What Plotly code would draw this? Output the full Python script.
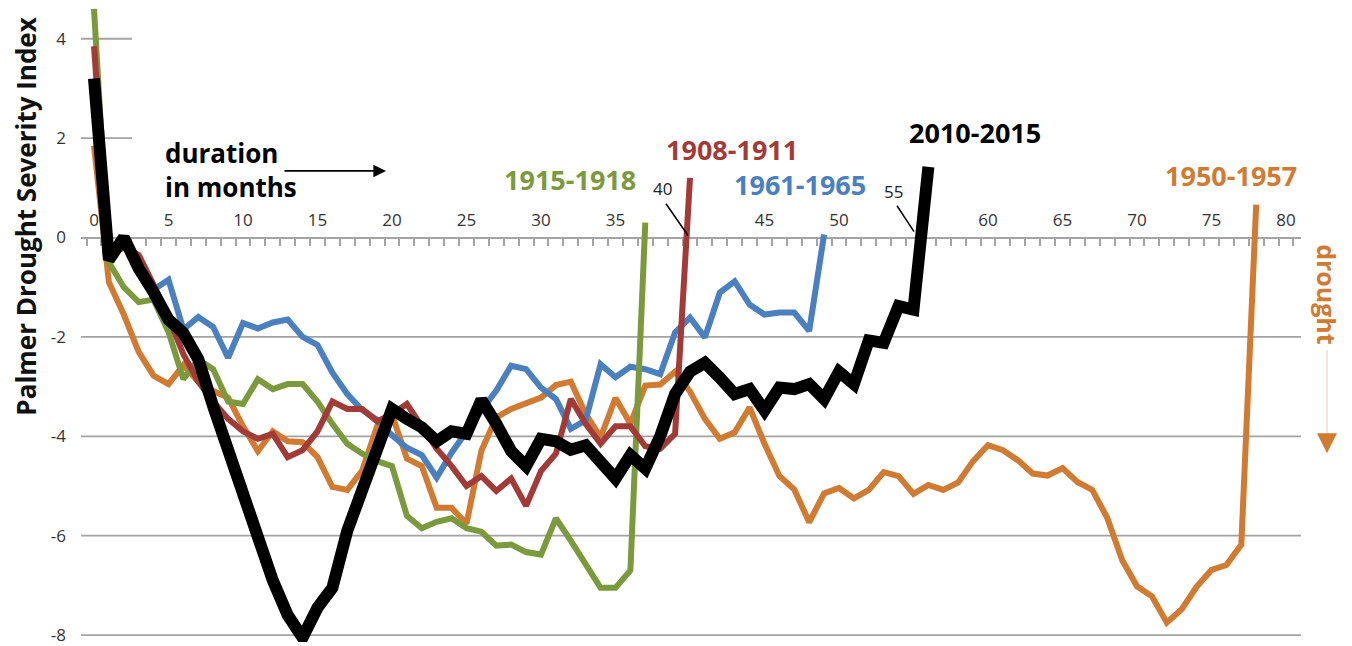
import plotly.graph_objects as go

# ---------------- data (PDSI by month of drought) ----------------
pdsi_1908_1911 = [3.85, -0.35, -0.2, -0.35, -0.95, -1.6, -2.35, -2.9, -3.3, -3.65,
                  -3.9, -4.05, -3.95, -4.42, -4.28, -3.9, -3.3, -3.45, -3.45, -3.7,
                  -3.55, -3.35, -3.8, -4.25, -4.6, -5.0, -4.8, -5.1, -4.85, -5.4,
                  -4.7, -4.35, -3.25, -3.75, -4.15, -3.8, -3.8, -4.2, -4.25, -3.95,
                  1.2]
pdsi_1915_1918 = [4.6, -0.5, -1.0, -1.3, -1.25, -1.9, -2.85, -2.45, -2.65, -3.3,
                  -3.35, -2.85, -3.05, -2.95, -2.95, -3.3, -3.75, -4.15, -4.35, -4.5,
                  -4.6, -5.6, -5.85, -5.72, -5.65, -5.85, -5.92, -6.2, -6.18, -6.33,
                  -6.38, -5.65, -6.1, -6.6, -7.05, -7.05, -6.7, 0.3]
pdsi_1950_1957 = [1.85, -0.9, -1.55, -2.3, -2.78, -2.95, -2.57, -2.9, -3.09, -3.22,
                  -3.8, -4.3, -3.9, -4.1, -4.12, -4.42, -5.02, -5.08, -4.69, -3.8,
                  -3.56, -4.45, -4.6, -5.44, -5.44, -5.76, -4.29, -3.62, -3.45, -3.35,
                  -3.22, -2.97, -2.9, -3.55, -4.02, -3.23, -3.75, -2.98, -2.96, -2.7,
                  -3.1, -3.65, -4.05, -3.92, -3.42, -4.15, -4.8, -5.07, -5.73, -5.15,
                  -5.04, -5.25, -5.08, -4.72, -4.8, -5.16, -4.98, -5.08, -4.93, -4.5,
                  -4.18, -4.28, -4.48, -4.75, -4.79, -4.64, -4.92, -5.08, -5.64, -6.49,
                  -7.02, -7.22, -7.75, -7.48, -7.03, -6.69, -6.59, -6.18, 0.66]
pdsi_1961_1965 = [3.0, -0.4, -0.1, -0.7, -1.05, -0.85, -1.85, -1.6, -1.8, -2.42,
                  -1.72, -1.83, -1.71, -1.65, -2.0, -2.16, -2.72, -3.15, -3.47, -3.67,
                  -3.98, -4.23, -4.38, -4.83, -4.33, -3.89, -3.48, -3.08, -2.58, -2.65,
                  -3.02, -3.25, -3.85, -3.68, -2.55, -2.81, -2.6, -2.65, -2.75, -1.91,
                  -1.61, -2.01, -1.11, -0.88, -1.35, -1.55, -1.51, -1.51, -1.88, 0.06]
pdsi_2010_2015 = [3.2, -0.45, 0.0, -0.62, -1.1, -1.65, -1.92, -2.45, -3.4, -4.25,
                  -5.1, -6.1, -6.9, -7.6, -8.05, -7.45, -7.05, -5.9, -5.08, -4.28,
                  -3.45, -3.65, -3.82, -4.1, -3.9, -3.95, -3.27, -3.75, -4.3, -4.6,
                  -4.05, -4.1, -4.27, -4.18, -4.5, -4.85, -4.38, -4.65, -4.0, -3.15,
                  -2.7, -2.52, -2.82, -3.15, -3.05, -3.48, -3.02, -3.05, -2.95, -3.25,
                  -2.7, -2.95, -2.07, -2.12, -1.38, -1.45, 1.42]

x_tick_labels = [0, 5, 10, 15, 20, 25, 30, 35, 45, 50, 60, 65, 70, 75, 80]
x_callout_labels = [40, 55]
y_tick_labels = [4, 2, 0, -2, -4, -6, -8]

GREEN = "#7A9A3D"
RED = "#A23B38"
BLUE = "#4A7FC0"
ORANGE = "#D07A32"
BLACK = "#000000"
GRID = "#A3A3A3"
FONT = "Open Sans"

series = [
    ("1950-1957", pdsi_1950_1957, ORANGE, 6),
    ("1961-1965", pdsi_1961_1965, BLUE, 6),
    ("1915-1918", pdsi_1915_1918, GREEN, 6),
    ("1908-1911", pdsi_1908_1911, RED, 6),
    ("2010-2015", pdsi_2010_2015, BLACK, 12),
]

W, H = 1352, 646
ML, MR, MT, MB = 81, 51, 0, 0
PW, PH = W - ML - MR, H - MT - MB
X_RANGE = [-0.872, 81.007]
Y_RANGE = [-8.14, 4.78]


def px(x):
    return (x - ML) / PW


def py(y):
    return (H - MB - y) / PH


fig = go.Figure()
for name, vals, color, width in series:
    fig.add_trace(go.Scatter(
        x=list(range(len(vals))), y=vals, mode="lines", name=name,
        line=dict(color=color, width=width),
        hoverinfo="skip", showlegend=False,
    ))

zero_pos = (0 - Y_RANGE[0]) / (Y_RANGE[1] - Y_RANGE[0])

fig.update_layout(
    width=W, height=H,
    margin=dict(l=ML, r=MR, t=MT, b=MB),
    paper_bgcolor="white", plot_bgcolor="white",
    font=dict(family=FONT, color="#404040"),
    xaxis=dict(
        range=X_RANGE, anchor="free", position=zero_pos, side="top",
        tickmode="array", tickvals=x_tick_labels,
        ticktext=[str(v) for v in x_tick_labels],
        ticks="", showline=True, linecolor=GRID, linewidth=2,
        showgrid=False, zeroline=False,
        tickfont=dict(size=17, color="#333333", family=FONT),
        ticklabelstandoff=4, ticklabeloverflow="allow",
        minor=dict(tickmode="array",
                   tickvals=[k - 0.5 for k in range(0, 82)],
                   ticks="inside", ticklen=7, tickwidth=1.5, tickcolor=GRID),
        layer="below traces",
    ),
    yaxis=dict(
        range=Y_RANGE, tickmode="array", tickvals=y_tick_labels,
        ticktext=[str(v) for v in y_tick_labels],
        ticks="", showgrid=False, zeroline=False, showline=False,
        tickfont=dict(size=17, color="#333333", family=FONT),
        ticklabelstandoff=14, ticklabeloverflow="allow",
    ),
)

# horizontal gridlines (short stubs above zero, full width below)
for v in y_tick_labels:
    if v == 0:
        continue
    x1 = 1.0 if v < 0 else px(132)
    fig.add_shape(type="line", xref="paper", yref="y", x0=0, x1=x1, y0=v, y1=v,
                  line=dict(color=GRID, width=1.8), layer="below")

# y-axis title
fig.add_annotation(text="<b>Palmer Drought Severity Index</b>", xref="paper", yref="paper",
                   x=px(26), y=py(218), xanchor="center", yanchor="middle",
                   textangle=-90, showarrow=False,
                   font=dict(size=26, color="#111111", family=FONT))

# series labels
labels = [
    ("1915-1918", GREEN, 570, 181),
    ("1908-1911", RED, 732, 150),
    ("1961-1965", BLUE, 800, 186),
    ("2010-2015", BLACK, 975, 133),
    ("1950-1957", ORANGE, 1231, 177),
]
for text, color, lx, ly in labels:
    fig.add_annotation(text=f"<b>{text}</b>", xref="paper", yref="paper",
                       x=px(lx), y=py(ly), xanchor="center", yanchor="middle",
                       showarrow=False, font=dict(size=27, color=color, family=FONT))

# duration in months + arrow
fig.add_annotation(text="<b>duration<br>in months</b>", xref="paper", yref="paper",
                   x=px(163), y=py(171), xanchor="left", yanchor="middle", align="left",
                   showarrow=False, font=dict(size=26, color="#000000", family=FONT))
fig.add_annotation(text="", xref="paper", yref="paper", x=px(386), y=py(172),
                   ax=-103, ay=0, showarrow=True, arrowhead=2, arrowsize=1.4,
                   arrowwidth=1.8, arrowcolor="#000000")

# callout tick labels 40 and 55
callouts = [(x_callout_labels[0], 662, 190, 666, 205, 688, 237),
            (x_callout_labels[1], 893, 193, 897, 207, 914, 233)]
for val, tx, ty, lx0, ly0, lx1, ly1 in callouts:
    fig.add_annotation(text=str(val), xref="paper", yref="paper", x=px(tx), y=py(ty),
                       xanchor="center", yanchor="middle",
                       showarrow=False, font=dict(size=17, color="#222222", family=FONT))
    fig.add_shape(type="line", xref="paper", yref="paper",
                  x0=px(lx0), y0=py(ly0), x1=px(lx1), y1=py(ly1),
                  line=dict(color="#000000", width=1.5))

# "drought" direction marker on the right
fig.add_annotation(text="<b>drought</b>", xref="paper", yref="paper",
                   x=px(1327), y=py(296), xanchor="center", yanchor="middle",
                   textangle=90, showarrow=False,
                   font=dict(size=25, color=ORANGE, family=FONT))
fig.add_shape(type="line", xref="paper", yref="paper",
              x0=px(1327), y0=py(352), x1=px(1327), y1=py(445),
              line=dict(color="#F2D6BE", width=1.2))
fig.add_annotation(text="", xref="paper", yref="paper", x=px(1327), y=py(456),
                   ax=0, ay=-14, showarrow=True, arrowhead=2, arrowsize=2.0,
                   arrowwidth=2, arrowcolor=ORANGE)

fig.write_html(
    "out.html",
    config={"displayModeBar": False},
    post_script="document.body.style.margin='0px';document.body.style.padding='0px';",
)
